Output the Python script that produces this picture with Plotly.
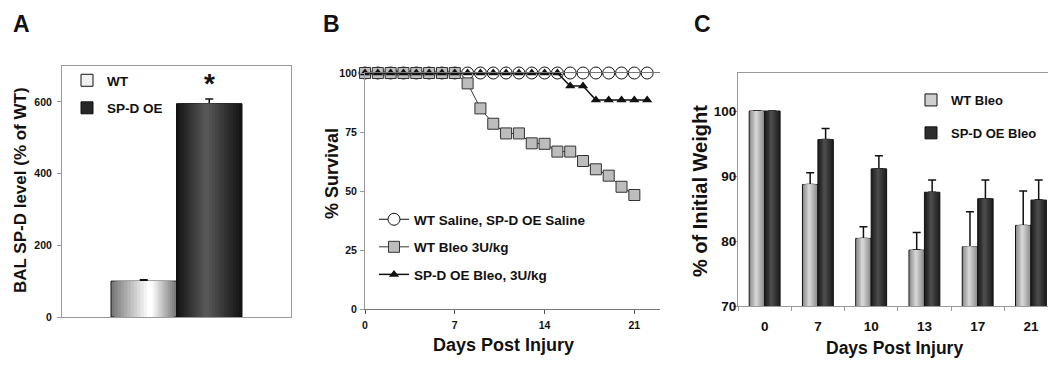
import plotly.graph_objects as go

# ---------------- data ----------------
# Panel A
a_groups = ["WT", "SP-D OE"]
a_values = [100, 595]
a_errors = [4, 13]

# Panel B (survival, days 0..22)
b_days = list(range(0, 23))
b_saline = [100] * 23
b_wt_bleo_days = list(range(0, 22))
b_wt_bleo = [100, 100, 100, 100, 100, 100, 100, 100, 95.6, 85, 78.5, 74.4, 74.4, 70.2, 70,
             66.7, 66.7, 62.7, 59.2, 56.5, 51.8, 48.3]
b_spd_bleo = [100] * 16 + [94.5, 94.5, 88.6, 88.6, 88.6, 88.6, 88.6]
b_xticks = [0, 7, 14, 21]
b_yticks = [0, 25, 50, 75, 100]

# Panel C (weight)
c_days = ["0", "7", "10", "13", "17", "21"]
c_wt = [100, 88.7, 80.4, 78.6, 79.1, 82.4]
c_wt_err = [0, 1.8, 1.8, 2.7, 5.4, 5.3]
c_spd = [100, 95.6, 91.1, 87.5, 86.5, 86.3]
c_spd_err = [0, 1.7, 2.0, 1.9, 2.9, 3.1]
c_sig = ["7", "10", "13"]

# ---------------- style ----------------
FR = "Liberation Sans, Arial, sans-serif"
INK = "#111111"
AX = "#9a9a9a"

W, H = 1048, 365


def px_x(p):
    return p / W


def px_y(p):
    return 1 - p / H


def mix(c1, c2, t):
    a = [int(c1[i:i + 2], 16) for i in (1, 3, 5)]
    b = [int(c2[i:i + 2], 16) for i in (1, 3, 5)]
    return "#" + "".join(f"{round(a[i] + (b[i] - a[i]) * t):02x}" for i in range(3))


def gradient_bars(fig, x, y, err, left, width, edge, center, hl, xaxis, yaxis, n=12):
    """Layered bars giving a cylinder-like horizontal gradient."""
    for k in range(n):
        f = 1 - k / n
        w = width * f
        off = left + hl * width - hl * w
        col = mix(edge, center, k / (n - 1))
        kw = {}
        if k == 0:
            kw["marker_line"] = dict(color=INK, width=1)
            kw["error_y"] = dict(type="data", array=err, arrayminus=[0] * len(err),
                                 symmetric=False, color=INK, thickness=1.5, width=4)
        else:
            kw["marker_line"] = dict(width=0)
        fig.add_trace(go.Bar(x=x, y=y, width=w, offset=off, marker_color=col,
                             showlegend=False, hoverinfo="skip",
                             xaxis=xaxis, yaxis=yaxis, **kw))


fig = go.Figure()

# ---------- Panel A ----------
a_edge = ["#7a7a7a", "#151515"]
a_center = ["#ffffff", "#575757"]
a_hl = [0.6, 0.45]
a_left = [-0.286, 0.0]
for i in range(2):
    gradient_bars(fig, [0], [a_values[i]], [a_errors[i]], a_left[i], 0.286,
                  a_edge[i], a_center[i], a_hl[i], "x", "y")
a_legend_col = ["#f2f2f2", "#262626"]
for i in range(2):
    fig.add_trace(go.Bar(x=[None], y=[None], name=a_groups[i], marker_color=a_legend_col[i],
                         marker_line=dict(color=INK, width=1), legend="legend",
                         legendgroup=f"a{i}", xaxis="x", yaxis="y"))

# ---------- Panel B ----------
fig.add_trace(go.Scatter(x=b_days, y=b_saline, mode="lines+markers",
                         name="WT Saline, SP-D OE Saline",
                         line=dict(color=INK, width=1),
                         marker=dict(symbol="circle", size=12, color="white",
                                     line=dict(color=INK, width=1)),
                         cliponaxis=False, legend="legend2", legendgroup="b0",
                         xaxis="x2", yaxis="y2"))
fig.add_trace(go.Scatter(x=b_wt_bleo_days, y=b_wt_bleo, mode="lines+markers",
                         name="WT Bleo 3U/kg",
                         line=dict(color="#333333", width=1),
                         marker=dict(symbol="square", size=11, color="#bdbdbd",
                                     line=dict(color="#333333", width=1)),
                         cliponaxis=False, legend="legend2", legendgroup="b1",
                         xaxis="x2", yaxis="y2"))
fig.add_trace(go.Scatter(x=b_days, y=b_spd_bleo, mode="lines+markers",
                         name="SP-D OE Bleo, 3U/kg",
                         line=dict(color=INK, width=1.5),
                         marker=dict(symbol="triangle-up", size=9, color=INK,
                                     line=dict(color=INK, width=0)),
                         cliponaxis=False, legend="legend2", legendgroup="b2",
                         xaxis="x2", yaxis="y2"))

# ---------- Panel C ----------
gradient_bars(fig, c_days, c_wt, c_wt_err, -0.29, 0.29, "#8c8c8c", "#d4d4d4", 0.45, "x3", "y3", n=8)
gradient_bars(fig, c_days, c_spd, c_spd_err, 0.0, 0.29, "#1e1e1e", "#4a4a4a", 0.45, "x3", "y3", n=8)
c_names = ["WT Bleo", "SP-D OE Bleo"]
c_legend_col = ["#cfcfcf", "#2e2e2e"]
for i in range(2):
    fig.add_trace(go.Bar(x=[None], y=[None], name=c_names[i], marker_color=c_legend_col[i],
                         marker_line=dict(color=INK, width=1), legend="legend3",
                         legendgroup=f"c{i}", xaxis="x3", yaxis="y3"))

# ---------------- layout ----------------
tick_small = dict(family=FR, size=10.5, color=INK, weight="bold")
tick_big = dict(family=FR, size=13.5, color=INK, weight="bold")

common_ax = dict(showgrid=False, zeroline=False, showline=True, linecolor=AX, linewidth=1,
                 ticks="outside", ticklen=4, tickcolor=AX)

fig.update_layout(
    width=W, height=H, margin=dict(l=0, r=0, t=0, b=0, autoexpand=False),
    paper_bgcolor="white", plot_bgcolor="white",
    barmode="overlay", showlegend=True,
    xaxis=dict(domain=[px_x(62), px_x(291)], range=[-0.5, 0.5], showgrid=False,
               zeroline=False, showline=True, linecolor=AX, mirror=True,
               showticklabels=False, ticks="", fixedrange=True),
    yaxis=dict(domain=[px_y(317), px_y(66)], range=[0, 700], tickvals=[0, 200, 400, 600],
               tickfont=tick_small, mirror=True, ticklabelstandoff=3, **common_ax),
    xaxis2=dict(domain=[px_x(365), px_x(660)], range=[0, 23], tickvals=b_xticks,
                tickfont=tick_small, mirror=True, anchor="y2", ticklabelstandoff=2,
                **{**common_ax, "linecolor": "#777777", "tickcolor": "#555555"}),
    yaxis2=dict(domain=[px_y(309), px_y(73)], range=[0, 100], tickvals=b_yticks,
                tickfont=tick_small, anchor="x2", ticklabelstandoff=1, **common_ax),
    xaxis3=dict(domain=[px_x(738), 1.0], type="category", range=[-0.5, 5.32],
                categoryorder="array", categoryarray=c_days,
                tickson="boundaries", tickfont=tick_big, mirror=True, anchor="y3",
                ticklabelstandoff=8, **common_ax),
    yaxis3=dict(domain=[px_y(306), px_y(73)], range=[70, 105.85], tickvals=[70, 80, 90, 100],
                tickfont=tick_big, anchor="x3", ticklabelstandoff=-6, **common_ax),
    legend=dict(x=px_x(67), y=px_y(65), xanchor="left", yanchor="top",
                font=dict(family=FR, size=13.5, color=INK, weight="bold"),
                bgcolor="rgba(0,0,0,0)", itemwidth=30, tracegroupgap=7,
                traceorder="grouped"),
    legend2=dict(x=px_x(374), y=px_y(204), xanchor="left", yanchor="top",
                 font=dict(family=FR, size=13.5, color=INK, weight="bold"),
                 bgcolor="rgba(0,0,0,0)", itemwidth=30, tracegroupgap=7,
                 traceorder="grouped"),
    legend3=dict(x=px_x(1042), y=px_y(85), xanchor="right", yanchor="top",
                 font=dict(family=FR, size=13, color=INK, weight="bold"),
                 bgcolor="rgba(0,0,0,0)", itemwidth=30, tracegroupgap=13,
                 traceorder="grouped"),
)

ann = []
title_font = dict(family=FR, color=INK, weight="bold")
# panel letters
for lab, cx in (("A", 21), ("B", 332), ("C", 702)):
    ann.append(dict(text=lab, x=px_x(cx), y=px_y(24), xref="paper", yref="paper",
                    xanchor="center", yanchor="middle", showarrow=False,
                    font=dict(size=23, **title_font)))
# axis titles
axis_titles = [
    ("BAL SP-D level (% of WT)", 20, 190, -90, 17),
    ("% Survival", 332, 173, -90, 18),
    ("Days Post Injury", 503, 345, 0, 18),
    ("% of Initial Weight", 700, 191, -90, 20),
    ("Days Post Injury", 894, 348, 0, 17.5),
]
for txt, cx, cy, ang, sz in axis_titles:
    ann.append(dict(text=txt, x=px_x(cx), y=px_y(cy), xref="paper", yref="paper",
                    xanchor="center", yanchor="middle", textangle=ang, showarrow=False,
                    font=dict(size=sz, **title_font)))
# significance stars
ann.append(dict(text="*", x=0.143, y=a_values[1] + a_errors[1], xref="x", yref="y",
                xanchor="center", yanchor="bottom", yshift=-2, showarrow=False,
                font=dict(size=28, **title_font)))
for d in c_sig:
    i = c_days.index(d)
    ann.append(dict(text="*", x=d, y=c_wt[i] + c_wt_err[i], xref="x3", yref="y3",
                    xshift=-8, xanchor="center", yanchor="bottom", yshift=-7, showarrow=False,
                    font=dict(size=24, **title_font)))
fig.update_layout(annotations=ann)

fig.write_html("out.html")
